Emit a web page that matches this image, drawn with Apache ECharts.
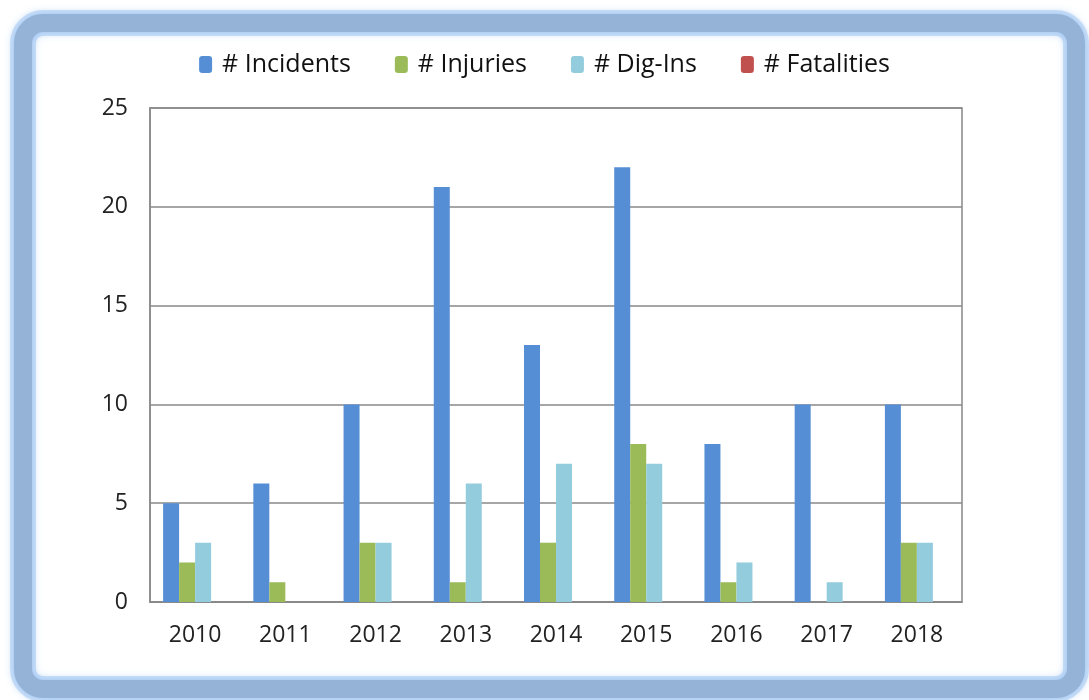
<!DOCTYPE html>
<html><head><meta charset="utf-8">
<script src="https://cdn.jsdelivr.net/npm/echarts@6/dist/echarts.min.js"></script>
<style>html,body{margin:0;padding:0;background:#fff}#c{width:1089px;height:700px}</style>
</head><body><div id="c"></div>
<script>
const years = ['2010','2011','2012','2013','2014','2015','2016','2017','2018'];
const incidents = [5,6,10,21,13,22,8,10,10];
const injuries = [2,1,3,1,3,8,1,0,3];
const digIns = [3,0,3,6,7,7,2,1,3];
const fatalities = [0,0,0,0,0,0,0,0,0];
const seriesNames = ['# Incidents','# Injuries','# Dig-Ins','# Fatalities'];
const colors = ['#558ED5','#9BBB59','#93CDDD','#C0504D'];
const font = '"Open Sans", Lato, sans-serif';

const chart = echarts.init(document.getElementById('c'), null, {renderer:'canvas'});
const data = [incidents, injuries, digIns, fatalities];
const frame = {x:23,y:23,width:1053,height:666,r:20};
chart.setOption({
  animation:false,
  backgroundColor:'#fff',
  graphic:[
    {type:'rect', silent:true, z:-1, shape:frame, style:{fill:'none', stroke:'#D2E4F9', lineWidth:26}},
    {type:'rect', silent:true, z:-1, shape:frame, style:{fill:'none', stroke:'#95B3D7', lineWidth:18,
      shadowColor:'rgba(140,185,240,0.9)', shadowBlur:10}}
  ],
  legend:{
    top:47, left:'center', itemGap:44, itemWidth:13, itemHeight:17,
    textStyle:{fontFamily:font, fontSize:25, color:'#111', padding:[0,0,0,5]},
    data:seriesNames
  },
  grid:{left:150, right:127, top:108, bottom:98, show:true, borderColor:'#888', borderWidth:1.5},
  xAxis:{type:'category', data:years,
    axisLine:{lineStyle:{color:'#888', width:1.5}}, axisTick:{show:false},
    axisLabel:{fontFamily:font, fontSize:23, color:'#222', margin:22}},
  yAxis:{type:'value', min:0, max:25, interval:5,
    axisLine:{show:true, lineStyle:{color:'#888', width:1.5}}, axisTick:{show:false},
    splitLine:{lineStyle:{color:'#888', width:1.5}},
    axisLabel:{fontFamily:font, fontSize:23, color:'#222', margin:22}},
  series: seriesNames.map((n,i)=>({
    name:n, type:'bar', data:data[i], barWidth:16, barGap:'0%',
    itemStyle:{color:colors[i]}
  }))
});
</script></body></html>
